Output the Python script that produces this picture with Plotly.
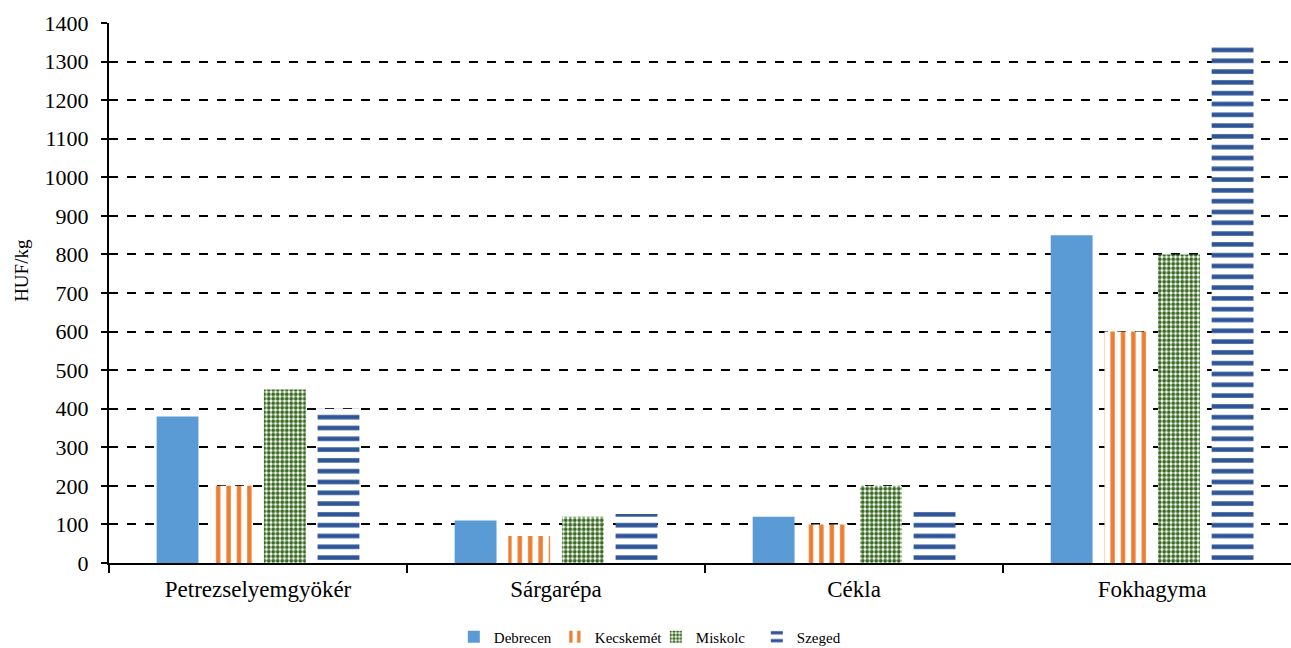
import plotly.graph_objects as go

categories = ["Petrezselyemgyökér", "Sárgarépa", "Cékla", "Fokhagyma"]
series_names = ["Debrecen", "Kecskemét", "Miskolc", "Szeged"]
debrecen = [380, 110, 120, 850]
kecskemet = [200, 70, 100, 600]
miskolc = [450, 120, 200, 800]
szeged = [400, 127, 140, 1350]
y_ticks = list(range(0, 1401, 100))
y_title = "HUF/kg"

values = [debrecen, kecskemet, miskolc, szeged]
styles = [
    dict(color="#5B9BD5"),
    dict(color="#ED7D31", pattern=dict(shape="|", fgcolor="#ED7D31", bgcolor="white", size=10.4, solidity=0.42, fillmode="replace")),
    dict(color="#3A6B22", pattern=dict(shape=".", fgcolor="#3A6B22", bgcolor="white", size=4.5, solidity=0.6, fillmode="replace")),
    dict(color="#2F5597", pattern=dict(shape="-", fgcolor="#2F5597", bgcolor="white", size=10.8, solidity=0.42, fillmode="replace")),
]

fig = go.Figure()
for name, vals, st in zip(series_names, values, styles):
    fig.add_trace(go.Bar(x=categories, y=vals, name=name, marker=dict(line=dict(width=0), **st)))

font_family = "Liberation Serif"
fig.update_layout(
    width=1291, height=648,
    margin=dict(l=109, r=0, t=23, b=85),
    paper_bgcolor="white", plot_bgcolor="white",
    barmode="group", bargap=0.28, bargroupgap=0.22,
    font=dict(family=font_family, size=21, color="black"),
    showlegend=True,
    legend=dict(orientation="h", xref="container", yref="container", x=0.508, y=0.017,
                xanchor="center", yanchor="middle", font=dict(size=15, family=font_family),
                tracegroupgap=0, itemwidth=30, entrywidth=56, entrywidthmode="pixels"),
    annotations=[dict(text=y_title, xref="paper", yref="paper", x=-0.0736, y=0.541,
                      xanchor="center", yanchor="middle", textangle=-90, showarrow=False,
                      font=dict(size=19, family=font_family, color="black"))],
)
fig.update_xaxes(
    range=[-0.5, 3.466], showline=True, linecolor="black", linewidth=2,
    ticks="outside", tickson="boundaries", ticklen=8, tickcolor="black", tickwidth=1.5,
    showgrid=False, tickfont=dict(size=23, family=font_family), ticklabelstandoff=4,
)
fig.update_yaxes(
    range=[0, 1400], tickvals=y_ticks, showline=True, linecolor="black", linewidth=2,
    ticks="outside", ticklen=6, tickcolor="black", tickwidth=1.5,
    showgrid=True, gridcolor="black", griddash="dash", gridwidth=1.5,
    zeroline=False, tickfont=dict(size=22, family=font_family), ticklabelstandoff=8,
)
fig.write_html("out.html", config={"displayModeBar": False},
               post_script="document.body.style.margin='0';document.body.style.padding='0';")
